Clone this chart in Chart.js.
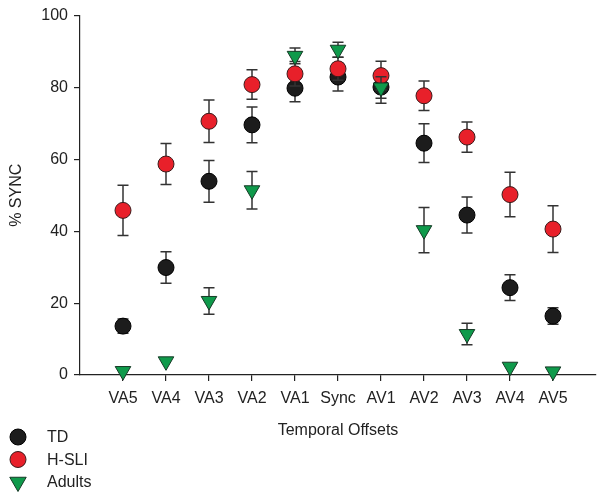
<!DOCTYPE html>
<html>
<head>
<meta charset="utf-8">
<script src="https://cdn.jsdelivr.net/npm/chart.js@4"></script>
<style>
  body { margin: 0; background: #fff; }
  #wrap { width: 606px; height: 499px; }
</style>
</head>
<body>
<div id="wrap"><canvas id="syncChart"></canvas></div>
<script>
const offsets = ['VA5', 'VA4', 'VA3', 'VA2', 'VA1', 'Sync', 'AV1', 'AV2', 'AV3', 'AV4', 'AV5'];

const tdValues = [13.6, 29.9, 53.9, 69.6, 79.8, 82.9, 80.1, 64.5, 44.5, 24.3, 16.4];
const tdErrors = [2.0, 4.4, 5.8, 5.0, 3.8, 3.9, 4.5, 5.4, 5.0, 3.6, 2.3];

const hsliValues = [45.8, 58.7, 70.6, 80.8, 83.8, 85.2, 83.3, 77.7, 66.2, 50.2, 40.6];
const hsliErrors = [7.0, 5.7, 5.9, 4.1, 3.4, 3.2, 4.0, 4.1, 4.2, 6.2, 6.5];

const adultValues = [1.1, 3.8, 20.6, 51.4, 88.8, 90.5, 80.0, 40.3, 11.4, 2.3, 1.0];
const adultErrors = [0, 0, 3.7, 5.2, 2.2, 2.1, 3.0, 6.3, 3.0, 0, 0];

const yTicks = [0, 20, 40, 60, 80, 100];

const textColor = '#222';
const font = { family: 'Liberation Sans, Arial, sans-serif', size: 16 };

function toPoints(values) {
  return values.map((v, i) => ({ x: i, y: v }));
}

// error bars, drawn just before each dataset's own markers
const errorBars = {
  id: 'errorBars',
  beforeDatasetDraw(chart, args) {
    const ds = chart.data.datasets[args.index];
    if (!ds.errors) return;
    const { ctx, scales: { x, y } } = chart;
    ctx.save();
    ctx.strokeStyle = '#333';
    ctx.lineWidth = 1.5;
    ds.data.forEach((p, i) => {
      const e = ds.errors[i];
      if (!e) return;
      const px = x.getPixelForValue(p.x);
      const top = y.getPixelForValue(p.y + e);
      const bot = y.getPixelForValue(p.y - e);
      ctx.beginPath();
      ctx.moveTo(px, top); ctx.lineTo(px, bot);
      ctx.moveTo(px - 5.5, top); ctx.lineTo(px + 5.5, top);
      ctx.moveTo(px - 5.5, bot); ctx.lineTo(px + 5.5, bot);
      ctx.stroke();
    });
    ctx.restore();
  }
};

// vertical legend in the bottom-left corner
const sideLegend = {
  id: 'sideLegend',
  afterDraw(chart) {
    const ctx = chart.ctx;
    ctx.save();
    ctx.font = '16px ' + font.family;
    ctx.textBaseline = 'middle';
    chart.data.datasets.forEach((ds, i) => {
      const cy = 437 + i * 22.5;
      ctx.fillStyle = ds.pointBackgroundColor;
      ctx.strokeStyle = ds.pointBorderColor;
      ctx.lineWidth = 1;
      ctx.beginPath();
      if (ds.pointStyle === 'triangle') {
        const r = ds.pointRadius + 0.5;
        ctx.moveTo(18, cy + r);
        ctx.lineTo(18 - r * 0.866, cy - r / 2);
        ctx.lineTo(18 + r * 0.866, cy - r / 2);
        ctx.closePath();
      } else {
        ctx.arc(18, cy, ds.pointRadius, 0, Math.PI * 2);
      }
      ctx.fill();
      ctx.stroke();
      ctx.fillStyle = textColor;
      ctx.fillText(ds.label, 47, cy + 1);
    });
    ctx.restore();
  }
};

new Chart(document.getElementById('syncChart'), {
  type: 'scatter',
  data: {
    datasets: [
      {
        label: 'TD',
        data: toPoints(tdValues),
        errors: tdErrors,
        order: 2,
        pointStyle: 'circle',
        pointRadius: 8,
        pointBackgroundColor: '#1c1c1c',
        pointBorderColor: '#000',
        pointBorderWidth: 1,
        clip: false
      },
      {
        label: 'H-SLI',
        data: toPoints(hsliValues),
        errors: hsliErrors,
        order: 1,
        pointStyle: 'circle',
        pointRadius: 8,
        pointBackgroundColor: '#e8202a',
        pointBorderColor: '#3a1a1a',
        pointBorderWidth: 1,
        clip: false
      },
      {
        label: 'Adults',
        data: toPoints(adultValues),
        errors: adultErrors,
        order: 0,
        pointStyle: 'triangle',
        pointRotation: 180,
        pointRadius: 9,
        pointBackgroundColor: '#0f9a4b',
        pointBorderColor: '#163a26',
        pointBorderWidth: 1,
        clip: false
      }
    ]
  },
  options: {
    responsive: true,
    maintainAspectRatio: false,
    animation: false,
    layout: { padding: { left: 0, right: 10, top: 15, bottom: 54 } },
    plugins: {
      legend: { display: false },
      tooltip: { enabled: false }
    },
    scales: {
      x: {
        type: 'linear',
        min: -1,
        max: 11,
        afterFit(scale) { scale.height = 70; },
        afterBuildTicks(scale) {
          scale.ticks = offsets.map((_, i) => ({ value: i }));
        },
        ticks: {
          color: textColor,
          font: font,
          padding: 8,
          maxRotation: 0,
          autoSkip: false,
          callback: (v) => offsets[v] ?? ''
        },
        grid: { drawOnChartArea: false, drawTicks: true, tickLength: 6, color: '#222', lineWidth: 1.2 },
        border: { color: '#222', width: 1.2 },
        title: {
          display: true,
          text: 'Temporal Offsets',
          color: textColor,
          font: font,
          padding: { top: 4, bottom: 5 }
        }
      },
      y: {
        min: 0,
        max: 100,
        afterFit(scale) { scale.width = 80; },
        afterBuildTicks(scale) {
          scale.ticks = yTicks.map(v => ({ value: v }));
        },
        ticks: { color: textColor, font: font, padding: 6 },
        grid: { drawOnChartArea: false, drawTicks: true, tickLength: 6, color: '#222', lineWidth: 1.2 },
        border: { color: '#222', width: 1.2 },
        title: {
          display: true,
          text: '% SYNC',
          color: textColor,
          font: font,
          padding: { top: 7, bottom: 4 }
        }
      }
    }
  },
  plugins: [errorBars, sideLegend]
});
</script>
</body>
</html>
